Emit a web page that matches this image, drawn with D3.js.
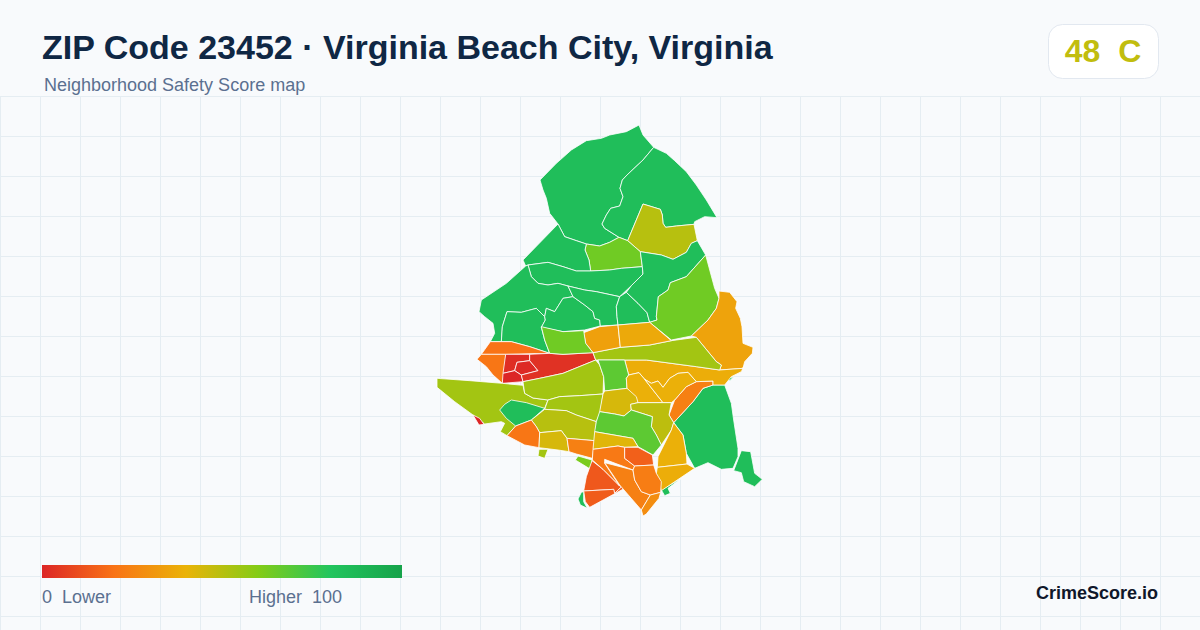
<!DOCTYPE html>
<html><head><meta charset="utf-8">
<script src="https://cdn.jsdelivr.net/npm/d3@7"></script>
<style>
html,body{margin:0;padding:0;background:#f8fafc}
svg{display:block}
text{font-family:"Liberation Sans",Arial,sans-serif;white-space:pre}
</style></head><body>
<svg id="c" width="1200" height="630"></svg>
<script>
const titleText = "ZIP Code 23452 · Virginia Beach City, Virginia";
const subtitleText = "Neighborhood Safety Score map";
const badgeText = "48  C";
const overallScore = 48;
const brandText = "CrimeScore.io";
const legendLow = "0  Lower";
const legendHigh = "Higher  100";
const colorDomain = [0, 20, 40, 60, 80, 100];
const colorRange = ["#dc2626", "#f97316", "#eab308", "#84cc16", "#22c55e", "#16a34a"];

// Neighborhood scores and outlines (map units), northern part
const northScores = [84, 84, 50, 64, 84, 84, 84, 84, 84, 84, 84, 84, 64, 35];
const northRings = [
 [[628,15],[640,45],[672,82],[640,120],[592,165],[578,180],[571,205],[580,230],[570,258],[543,265],[530,285],[517,312],[525,325],[568,352],[540,367],[510,378],[470,372],[440,362],[405,350],[385,312],[360,280],[350,235],[340,210],[331,180],[380,130],[425,90],[470,62],[515,55],[540,45],[590,35]],
 [[672,82],[710,100],[735,122],[770,155],[800,195],[830,240],[862,293],[825,290],[795,305],[793,313],[740,318],[708,322],[700,310],[698,285],[692,268],[640,252],[594,362],[568,352],[525,325],[517,312],[530,285],[543,265],[570,258],[580,230],[571,205],[578,180],[592,165],[640,120]],
 [[640,252],[692,268],[698,285],[700,310],[708,322],[740,318],[793,313],[803,362],[785,370],[770,397],[730,418],[695,405],[632,395],[594,362]],
 [[470,372],[510,378],[540,367],[568,352],[594,362],[632,395],[638,440],[575,445],[540,450],[483,453],[478,420],[466,390]],
 [[385,312],[405,350],[440,362],[470,372],[466,390],[478,420],[483,453],[440,453],[400,440],[355,427],[295,435],[288,438],[280,420]],
 [[295,435],[355,427],[400,440],[440,453],[483,453],[540,450],[575,445],[638,440],[640,462],[605,497],[570,530],[500,515],[465,510],[415,498],[385,490],[355,495],[325,490],[305,470]],
 [[288,438],[295,435],[305,470],[325,490],[355,495],[385,490],[415,498],[430,530],[400,535],[375,575],[350,565],[345,590],[320,565],[275,577],[232,575],[218,620],[215,665],[182,665],[195,640],[190,610],[165,590],[148,575],[155,540],[230,490]],
 [[215,665],[218,620],[232,575],[275,577],[320,565],[345,590],[347,600],[335,622],[345,660],[360,700],[300,680],[245,665]],
 [[345,590],[350,565],[375,575],[400,535],[430,530],[465,555],[490,575],[495,595],[510,600],[512,618],[465,630],[400,635],[335,622],[347,600]],
 [[415,498],[465,510],[500,515],[570,530],[560,560],[562,590],[565,615],[512,618],[510,600],[495,595],[490,575],[465,555],[430,530]],
 [[570,530],[590,517],[625,550],[652,578],[660,607],[565,615],[562,590],[560,560]],
 [[632,395],[695,405],[730,418],[770,397],[785,370],[803,362],[828,405],[770,470],[722,488],[715,510],[686,530],[680,590],[682,600],[660,607],[652,578],[625,550],[590,517],[605,497],[640,462],[638,440]],
 [[828,405],[855,505],[868,535],[860,565],[835,600],[785,648],[725,660],[660,607],[682,600],[680,590],[686,530],[715,510],[722,488],[770,470]],
 [[868,513],[900,517],[922,545],[918,565],[932,595],[937,620],[940,670],[970,682],[968,700],[945,725],[940,745],[870,750],[875,735],[860,725],[800,652],[785,648],[835,600],[860,565],[868,535]]
];

// Neighborhood scores and outlines (map units), southern part
const southScores = [20, 21, 2, 1, 0, 3, 54, 84, 0, 54, 54, 50, 21, 44, 24, 54, 62, 13, 14, 84, 84, 84, 84, 84, 24, 38, 54, 68, 34, 37, 64, 39, 39, 44, 49, 68, 42, 39, 38, 22, 15, 24, 23, 28];
const southRings = [
 [[182,95],[245,95],[300,110],[360,130],[228,133],[155,133]],
 [[155,133],[228,133],[225,185],[218,220],[190,195],[170,170],[142,148]],
 [[228,133],[300,133],[300,152],[262,157],[255,182],[220,190]],
 [[262,157],[300,152],[325,182],[275,195],[255,182]],
 [[220,190],[255,182],[275,195],[280,215],[218,220]],
 [[300,133],[360,130],[400,133],[490,128],[498,150],[400,190],[330,205],[280,215],[275,195],[325,182],[300,152]],
 [[22,205],[120,212],[218,220],[280,226],[285,250],[310,264],[355,270],[345,295],[305,330],[258,348],[232,377],[212,365],[225,340],[215,335],[165,342],[130,315],[75,275],[22,232]],
 [[245,270],[290,278],[345,295],[305,330],[258,348],[230,325],[210,300],[225,283]],
 [[130,315],[150,325],[163,343],[148,345]],
 [[280,215],[330,205],[400,190],[498,150],[510,165],[522,200],[520,252],[450,257],[390,260],[355,270],[310,264],[285,250]],
 [[355,270],[390,260],[450,257],[520,252],[512,305],[500,335],[440,315],[410,302],[345,298]],
 [[345,298],[410,302],[440,315],[500,335],[495,392],[412,385],[395,362],[330,368],[320,350],[305,330]],
 [[305,330],[320,350],[330,368],[328,413],[285,405],[232,377],[258,348]],
 [[330,368],[395,362],[412,385],[418,425],[385,420],[328,413]],
 [[412,385],[495,392],[488,445],[440,432],[418,425]],
 [[328,418],[355,418],[345,445],[325,438]],
 [[445,438],[487,450],[483,478],[437,450]],
 [[487,452],[520,478],[570,528],[576,530],[555,550],[552,538],[462,543],[470,500]],
 [[462,543],[552,538],[555,550],[576,530],[581,537],[480,592],[467,575]],
 [[455,547],[462,545],[462,575],[473,595],[452,585],[445,567]],
 [[885,225],[905,280],[912,330],[925,415],[925,440],[910,475],[875,478],[835,458],[795,475],[770,430],[760,375],[732,338],[790,275],[820,235],[850,225]],
 [[935,422],[963,425],[975,490],[998,508],[975,530],[942,515],[935,488],[912,482]],
 [[895,205],[912,200],[900,212]],
 [[695,540],[755,505],[715,535],[722,550],[705,557]],
 [[850,213],[850,225],[820,235],[790,275],[732,338],[718,315],[735,270],[770,230],[800,215]],
 [[585,150],[650,150],[800,170],[870,180],[940,175],[942,170],[935,185],[905,200],[885,225],[850,225],[850,213],[800,215],[775,187],[745,190],[720,205],[700,232],[685,213],[665,220],[645,208],[628,188],[597,195]],
 [[490,128],[572,112],[660,105],[725,92],[800,82],[860,155],[875,165],[870,180],[800,170],[650,150],[585,150],[505,150],[498,150]],
 [[505,150],[585,150],[597,195],[590,205],[592,235],[525,243],[522,200],[510,165]],
 [[462,68],[510,50],[565,45],[572,112],[490,128],[468,100]],
 [[565,45],[660,37],[725,92],[660,105],[572,112]],
 [[335,50],[400,65],[462,62],[468,100],[490,128],[400,133],[360,130],[345,90]],
 [[597,195],[628,188],[645,208],[700,278],[725,278],[625,278],[592,235],[590,205]],
 [[645,208],[665,220],[685,213],[700,232],[720,205],[745,190],[775,187],[800,215],[770,230],[735,270],[725,278],[700,278]],
 [[525,243],[592,235],[620,260],[625,278],[603,283],[605,300],[583,318],[555,312],[510,305],[520,252]],
 [[603,283],[625,278],[725,278],[718,315],[732,338],[725,360],[695,405],[680,375],[665,350],[668,320],[605,300]],
 [[510,305],[555,312],[583,318],[605,300],[668,320],[665,350],[680,375],[695,405],[670,435],[625,410],[610,385],[495,365],[500,335]],
 [[495,365],[610,385],[625,410],[585,412],[565,408],[490,418]],
 [[732,338],[760,375],[770,430],[772,462],[683,472],[685,440],[725,360]],
 [[683,472],[772,462],[795,475],[695,542],[680,490]],
 [[490,418],[565,408],[585,412],[585,445],[615,468],[610,480],[525,448],[525,460],[570,528],[520,478],[488,450]],
 [[585,412],[625,412],[668,435],[672,465],[615,468],[585,445]],
 [[525,458],[610,480],[615,510],[635,545],[662,555],[635,600],[570,525]],
 [[615,468],[672,465],[680,490],[695,515],[693,547],[662,555],[635,545],[615,510],[610,480]],
 [[693,547],[688,565],[650,612],[640,618],[635,600],[662,555]]
];
const southOffset = 570; // the southern rings were read with their origin this far down

const W = 1200, H = 630;
const svg = d3.select("#c");
const bg = svg.append("g");
bg.append("rect").attr("width", W).attr("height", H).attr("fill", "#f8fafc");

// background grid
const gridTop = 96, gridStep = 40;
const gx = d3.range(0, W, gridStep), gy = d3.range(gridTop, H, gridStep);
bg.selectAll("line.v").data(gx).join("line").attr("x1", d => d + .5).attr("x2", d => d + .5)
  .attr("y1", gridTop).attr("y2", H).attr("stroke", "#e5edf2").attr("stroke-width", 1);
bg.selectAll("line.h").data(gy).join("line").attr("y1", d => d + .5).attr("y2", d => d + .5)
  .attr("x1", 0).attr("x2", W).attr("stroke", "#e5edf2").attr("stroke-width", 1);

const color = d3.scaleLinear().domain(colorDomain).range(colorRange).clamp(true);

// map
const feature = (ring, score) => ({type: "Feature", properties: {score},
  geometry: {type: "Polygon", coordinates: [ring.concat([ring[0]])]}});
const features = northRings.map((r, i) => feature(r, northScores[i]))
  .concat(southRings.map((r, i) => feature(r.map(p => [p[0], p[1] + southOffset]), southScores[i])));
const fc = {type: "FeatureCollection", features};
const projection = d3.geoIdentity().fitExtent([[436.67, 125], [762.67, 516]], fc);
const path = d3.geoPath(projection);
svg.append("g").selectAll("path").data(features).join("path")
  .attr("d", path)
  .attr("fill", d => color(d.properties.score))
  .attr("stroke", "#ffffff").attr("stroke-width", 0.8).attr("stroke-linejoin", "round");

// header
svg.append("text").attr("x", 42).attr("y", 59).attr("font-size", 34).attr("font-weight", 700)
  .attr("fill", "#0f2744").text(titleText);
svg.append("text").attr("x", 44).attr("y", 91).attr("font-size", 18)
  .attr("fill", "#5b7090").text(subtitleText);

// badge
svg.append("rect").attr("x", 1048.5).attr("y", 24.5).attr("width", 110).attr("height", 54).attr("rx", 14)
  .attr("fill", "#ffffff").attr("stroke", "#e2e8f0");
svg.append("text").attr("x", 1103).attr("y", 62).attr("text-anchor", "middle").attr("font-size", 32)
  .attr("font-weight", 700).attr("fill", color(overallScore)).text(badgeText);

// legend
const defs = svg.append("defs");
const grad = defs.append("linearGradient").attr("id", "lg");
grad.selectAll("stop").data(colorDomain).join("stop")
  .attr("offset", d => d + "%").attr("stop-color", d => color(d));
svg.append("rect").attr("x", 42).attr("y", 565).attr("width", 360).attr("height", 13).attr("fill", "url(#lg)");
svg.append("text").attr("x", 42).attr("y", 603).attr("font-size", 18).attr("fill", "#5b7090").text(legendLow);
svg.append("text").attr("x", 249).attr("y", 603).attr("font-size", 18).attr("fill", "#5b7090").text(legendHigh);

// brand
svg.append("text").attr("x", 1158).attr("y", 599).attr("text-anchor", "end").attr("font-size", 18)
  .attr("font-weight", 700).attr("fill", "#0f172a").text(brandText);
</script>
</body></html>
